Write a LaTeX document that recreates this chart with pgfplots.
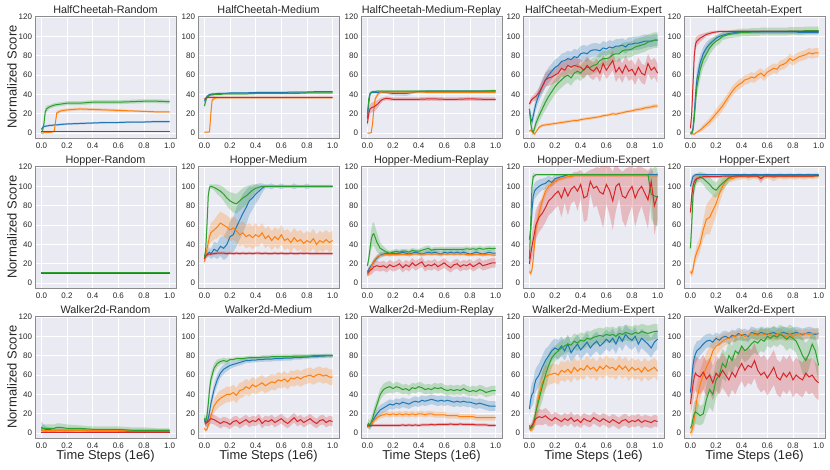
\documentclass[border=0pt]{standalone}
\usepackage{pgfplots}
\pgfplotsset{compat=1.18}
\usepackage{pgfplotstable}
\usepgfplotslibrary{fillbetween}
\usepackage{fontspec}
\setmainfont{Liberation Sans}
\definecolor{cb}{HTML}{1F77B4}
\definecolor{co}{HTML}{FF7F0E}
\definecolor{cg}{HTML}{2CA02C}
\definecolor{cr}{HTML}{D62728}
\definecolor{bgc}{HTML}{EAEAF2}
\definecolor{txt}{HTML}{262626}
\definecolor{frame}{HTML}{8C8C8C}

% ---------------- data: x, mean/std for blue, orange, green, red ----------------
\pgfplotstableread{
x b bs o os g gs r rs
0 4 1 0 0.5 1 1 2 0.3
.01 6 1 0 0.5 3 2 2 0.3
.02 7 1 0.5 0.5 10 4 2 0.3
.03 7 1 0.5 0.5 22 4 2 0.3
.04 7.5 1 0.5 0.5 25 3 2 0.3
.05 7.5 1 0.5 0.5 26 3 2 0.3
.06 8 1 0.5 0.5 27 2 2 0.3
.08 8 1 1 0.5 28 2 2 0.3
.1 8.5 1 2 1 29 2 2 0.3
.12 8.5 1 21 2 29.5 2 2 0.3
.15 9 1 23 1.5 30 2 2 0.3
.2 9.5 1 24 1.5 31 2 2 0.3
.3 10 1 25 1.5 31 2 2 0.3
.4 10.5 1 24.5 1.5 32 2 2 0.3
.5 11 1 24 1.5 32 2 2 0.3
.6 11 1 23.5 1.5 32 2 2 0.3
.7 11.5 1 23 1 32.5 2 2 0.3
.8 11.5 1 22.5 1 33 2 2 0.3
.9 12 1 22 1 33 2 2 0.3
1 12 1 22 1 32.5 2 2 0.3
}\tA
\pgfplotstableread{
x b bs o os g gs r rs
0 33 3 1 0.5 28 3 35 2
.01 35 2 1 0.5 33 3 36 1
.02 38 1 1 0.5 37 2 37 1
.03 39 1 1 0.5 38 1 37 1
.04 40 1 1.5 0.5 39 1 37 1
.05 40 1 20 4 39.5 1 37 1
.06 40.5 1 34 2 39.5 1 37 1
.08 40.5 1 36 1 40 1 37 1
.1 41 0.8 36.5 0.5 40 1 37 0.8
.12 41 0.8 36.5 0.5 40 1 37 0.8
.15 41 0.8 36.5 0.5 40.5 1 37 0.8
.2 41.5 0.8 36.5 0.5 40.5 1 37 0.8
.3 41.5 0.8 36.5 0.5 40.5 1 37 0.8
.4 42 0.8 36.5 0.5 41 1 37 0.8
.5 42 0.8 36.5 0.5 41 1 37 0.8
.6 42 0.8 36.5 0.5 41 1 37 0.8
.7 42.5 0.8 36.5 0.5 41 1 37 0.8
.8 42.5 0.8 36.5 0.5 41.5 1 37 0.8
.9 43 0.8 36.5 0.5 41.5 1 37 0.8
1 43 0.8 36.5 0.5 41.5 1 37 0.8
}\tB
\pgfplotstableread{
x b bs o os g gs r rs
0 15 5 0 0.5 20 5 10 4
.01 30 5 0 0.5 35 4 20 5
.02 40 2 0 0.5 41 2 25 5
.03 42 1 0.5 0.5 42 1 26 5
.04 42 1 10 4 43 1 27 5
.05 42 1 25 5 43 1 27 5
.06 42 1 35 3 43 1 28 5
.08 42 1 40 2 43.5 1 30 4
.1 42 1 42 1 43.5 1 33 3
.12 42 1 42.5 1 43.5 1 35 2
.15 42 1.5 42.5 1 43.5 1 36 2
.2 41 2 42.5 1 43.5 1 35 2
.3 41 2.5 42.5 1 43.5 1 35 2
.4 43 1 42.5 1 43.5 1 35 2
.5 43.5 1 42 1 43.5 1 35.5 2
.6 43.5 1 42 1 43.5 1 35 2
.7 43.5 1 42 1 43.5 1 35 2
.8 43.5 1 42 1 43.5 1 35.5 2
.9 43.5 1 42 1 43.5 1 35 2
1 43.5 1 42 1 44 1 35 2
}\tC
\pgfplotstableread{
x b bs o os g gs r rs
0 25 3 2 1 25 3 30 3
.01 15 5 3 1 10 5 33 3
.02 12 6 2 1 3 4 35 3
.03 18 6 0 1 1 3 36 3
.04 24 6 -1 1 5 4 37 4
.05 30 6 1 1 10 5 38 4
.075 40 7 6 1.5 18 6 42 5
.1 48 8 8 1.5 25 7 48 6
.125 55 8 8.5 1.5 32 8 55 7
.15 60 8 9 1.5 38 8 57 8
.175 64 8 9.5 1.5 43 8 58 8
.2 68 8 10 1.5 48 8 60 8
.225 70 8 10.5 1.5 52 8 62 8
.25 74 8 11 1.5 55 8 67 8
.275 75 8 11.5 1.5 58 8 65 8
.3 77 8 12 1.5 60 8 70 8
.325 76 8 12.5 1.5 57 8 68 8
.35 79 8 13 1.5 62 8 70 8
.375 78 8 13 1.5 64 8 69 8
.4 82 8 14 1.5 62 8 68 8
.425 83 8 14.5 1.5 66 8 65 9
.45 82 8 15 1.5 68 8 70 9
.475 85 7 15.5 1.5 68 8 66 9
.5 86 7 16 1.5 70 8 64 9
.525 86 7 16.5 1.5 71 8 68 9
.55 85 7 17 1.5 75 8 62 9
.575 88 7 18 1.5 77 8 72 9
.6 87 7 18.5 1.5 77 8 65 9
.625 89 7 19 1.5 78 8 70 10
.65 88 7 20 1.5 81 8 75 10
.675 90 7 19.5 1.5 82 8 63 10
.7 90 7 20.5 1.5 82 8 68 10
.725 91 7 21 1.5 85 8 62 10
.75 89 7 22 1.5 86 8 70 10
.775 92 7 22.5 1.5 86 8 64 10
.8 92 7 23 1.5 87 8 66 10
.825 93 7 24 2 89 8 60 10
.85 93 7 24.5 2 90 8 68 10
.875 94 7 25 2 91 8 62 10
.9 95 7 26 2 92 8 60 10
.925 95 6 26.5 2 94 8 72 10
.95 95 6 27 2 95 8 65 10
.975 96 6 28 2 96 8 68 10
1 96 6 28 2 96 8 62 10
}\tD
\pgfplotstableread{
x b bs o os g gs r rs
0 0 2 0 1 0 2 5 3
.01 0 2 0 1 0 2 20 8
.02 5 4 -1 1 3 3 50 10
.03 20 8 -1 1 15 6 80 8
.04 40 10 0 1 32 8 92 6
.05 55 10 1 1 48 10 95 5
.075 72 8 3 2 65 10 98 4
.1 82 7 6 3 76 8 100 3
.125 88 6 9 3 82 8 102 2
.15 92 5 12 4 88 7 103 2
.175 95 4 16 4 92 6 104 1.5
.2 98 3 20 5 95 5 104.5 1.5
.225 100 3 24 5 97 5 105 1
.25 101 3 28 5 100 4 105 1
.275 102 2 33 5 101 4 105 1
.3 103 2 38 5 102 4 105 1
.325 103.5 2 43 5 102.5 4 105 1
.35 104 2 47 5 103 4 105 1
.375 104 2 50 5 103.5 4 105 1
.4 104.5 2 52 5 104 4 105 1
.425 104.5 2 55 5 104 4 105 1
.45 104.5 2 56 5 104 4 105 1
.475 104.5 2 58 5 104.5 4 105 1
.5 104.5 2 57 5 104.5 4 105 1
.525 104.5 2 60 5 104.5 4 105 1
.55 104.5 2 62 5 105 4 105 1
.575 104.5 2 59 5 105 4 105 1
.6 104.5 2 63 5 105 4 105 1
.625 104.5 2 65 5 105 4 105 1
.65 104.5 2 67 5 105 4 105 1
.675 104.5 2 66 5 105 4 105 1
.7 104.5 2 70 5 105 4 105 1
.725 104.5 2 71 5 105 4 105 1
.75 104.5 2 73 5 105 4 105 1
.775 104.5 2 77 5 105.5 4 105 1
.8 104.5 2 75 5 105.5 4 105 1
.825 104.5 2 77 5 105.5 4 105 1
.85 104 2 79 5 105.5 4 105 1
.875 104 2 80 5 105.5 4 105 1
.9 104 2 81 5 106 4 105 1
.925 104 2 83 5 106 4 105 1
.95 104 2 82 5 106 4 105 1
.975 104 2 83 5 106 4 105 1
1 104 2 83 5 106 4 105 1
}\tE
\pgfplotstableread{
x b bs o os g gs r rs
0 10.5 0.5 10 0.5 11 0.5 10 0.3
.25 10.5 0.5 10 0.5 11 0.5 10 0.3
.5 10.5 0.5 10 0.5 11 0.5 10 0.3
.75 10.5 0.5 10 0.5 11 0.5 10 0.3
1 10.5 0.5 10 0.5 11 0.5 10 0.3
}\tF
\pgfplotstableread{
x b bs o os g gs r rs
0 28 3 22 3 25 3 25 3
.01 30 3 28 5 35 6 28 3
.02 30 4 35 6 60 10 29 2
.03 31 4 42 8 90 6 30 2
.04 32 5 48 8 99 3 30 1.5
.05 30 5 52 10 100 2 30 1.5
.075 35 8 55 10 99 3 30.5 1.5
.1 33 8 58 12 97 5 31 1.5
.125 38 10 62 12 95 6 31 1.5
.15 36 12 60 12 92 7 31 1.5
.175 40 14 58 12 88 8 30.5 1.5
.2 48 16 55 12 85 9 31 1.5
.225 50 18 57 12 83 10 30.5 1.5
.25 58 20 54 12 82 10 31 1.5
.275 65 20 50 12 85 10 30.5 1.5
.3 72 20 52 12 88 10 31 1.5
.325 78 18 48 12 90 10 30.5 1.5
.35 85 15 50 12 93 8 31 1.5
.375 88 12 47 12 96 6 30.5 1.5
.4 92 10 50 12 98 4 31 1.5
.425 95 8 48 10 99 2 31 1.5
.45 98 5 52 10 100 1 30.5 1.5
.475 100 2 46 10 100 1 31 1.5
.5 100 2 49 10 100 1 30.5 1.5
.525 100 3 44 10 100 1 30.5 1.5
.55 100 1.5 48 10 100 1 31 1.5
.575 100 1.5 45 10 100 1 30.5 1.5
.6 100 3 50 10 100 1 31 1.5
.625 100 1.5 44 10 100 1 30.5 1.5
.65 100 1.5 46 10 100 1 30.5 1.5
.675 100 1.5 42 10 100 1 31 1.5
.7 100 3 47 10 100 1 30.5 1.5
.725 100 1.5 43 10 100 1 30.5 1.5
.75 100 1.5 45 10 100 1 31 1.5
.775 100 1.5 41 10 100 1 30.5 1.5
.8 100 3 44 10 100 1 31 1.5
.825 100 1.5 42 10 100 1 30.5 1.5
.85 100 1.5 46 10 100 1 30.5 1.5
.875 100 1.5 40 10 100 1 30.5 1.5
.9 100 1.5 44 10 100 1 30.5 1.5
.925 100 1.5 42 10 100 1 30.5 1.5
.95 100 1.5 45 10 100 1 30.5 1.5
.975 100 1.5 42 10 100 1 30.5 1.5
1 100 1.5 44 10 100 1 30.5 1.5
}\tG
\pgfplotstableread{
x b bs o os g gs r rs
0 12 2 8 2 18 3 10 3
.01 14 3 10 2 25 5 12 4
.02 16 3 13 2 35 8 13 5
.03 18 3 17 2 45 10 14 5
.04 20 3 20 2 50 12 15 5
.05 22 3 23 2 51 12 17 5
.075 26 3 27 2 42 10 18 5
.1 29 3 29 2 36 6 17 5
.125 30 2.5 29 1.5 34 4 18 5
.15 31 2.5 29.5 1.5 32 3 16 5
.175 30 2.5 29.5 1.5 31 2.5 19 5
.2 31 2.5 29.5 1.5 32 2.5 17 5
.225 30.5 2.5 29.5 1.5 33 2.5 18 5
.25 31 2.5 29.5 1.5 32 2.5 20 5
.275 32 2.5 29.5 1.5 33 2.5 16 5
.3 31 2.5 29.5 1.5 33 2.5 19 5
.325 30 2.5 29.5 1.5 32 2.5 17 5
.35 31 2.5 30 1.5 34 2.5 21 5
.375 32 2.5 30 1.5 33 2.5 18 5
.4 31 2.5 30 1.5 33 2.5 20 5
.425 30 2.5 30 1.5 34 2.5 22 5
.45 31 2.5 30 1.5 35 3 17 5
.475 32 2.5 30 1.5 36 3 19 5
.5 31 2.5 30 1.5 34 2.5 18 5
.525 32 2.5 30 1.5 35 2.5 20 5
.55 31 2.5 30 1.5 35 2.5 17 5
.575 30 2.5 30 1.5 35 2.5 19 5
.6 32 2.5 30 1.5 35 2.5 21 5
.625 31 2.5 30 1.5 35 2.5 18 5
.65 32 2.5 30 1.5 35 2.5 16 5
.675 31 2.5 30 1.5 35 2.5 19 5
.7 32 2.5 30 1.5 35 2.5 20 5
.725 31 2.5 30 1.5 35 2.5 17 5
.75 32 2.5 30 1.5 35 2.5 19 5
.775 31 2.5 29.5 1.5 35.5 2.5 18 5
.8 30 2.5 29.5 1.5 35 2.5 20 5
.825 31 2.5 29.5 1.5 35.5 2.5 17 5
.85 32 2.5 29.5 1.5 35 2.5 19 5
.875 31 2.5 29.5 1.5 36 2.5 21 5
.9 30 2.5 29.5 1.5 35 2.5 18 5
.925 31 2.5 29.5 1.5 35.5 2.5 19 5
.95 32 2.5 29.5 1.5 36 2.5 20 5
.975 31 2.5 29 1.5 35.5 2.5 21 5
1 31 2.5 29 1.5 36 2.5 21 5
}\tH
\pgfplotstableread{
x b bs o os g gs r rs
0 45 8 12 3 25 5 20 8
.01 55 10 10 3 60 15 30 10
.02 75 12 14 4 100 10 38 12
.03 90 10 25 6 110 4 45 15
.04 95 8 40 8 111 2 52 15
.05 97 8 55 8 112 1 60 15
.075 100 7 72 8 112 1 68 15
.1 102 6 85 6 112 1 72 15
.125 103 6 95 5 112 1 78 15
.15 106 5 100 4 112 1 85 15
.175 104 5 103 3 112 1 88 15
.2 108 4 105 3 112 1 92 15
.225 109 3 107 2 112 1 95 15
.25 110 2 108 2 112 1 88 20
.275 111 1 109 2 112 1 98 15
.3 112 1 110 2 112 1 90 20
.325 112 1 110 2 112 1 97 15
.35 112 1 111 1.5 112 1 100 15
.375 112 1 111 1.5 112 1 95 20
.4 112 1 111 1.5 112 1 102 15
.425 112 1 111 1.5 112 1 88 25
.45 112 1 111 1.5 112 1 90 25
.475 112 1 111 1.5 112 1 105 12
.5 112 1 111 1.5 112 1 98 20
.525 112 1 111 1.5 112 1 100 20
.55 112 1 111 1.5 112 1 94 25
.575 112 1 111 1.5 112 1 92 35
.6 112 1 111 1.5 112 1 102 20
.625 112 1 111 1.5 112 1 96 25
.65 112 1 111 1.5 112 1 85 30
.675 112 1 111 1.5 112 1 100 25
.7 112 1 111 1.5 112 1 103 15
.725 112 1 111 1.5 112 1 90 25
.75 112 1 111 1.5 112 1 88 30
.775 112 1 111 1.5 112 1 95 25
.8 112 1 111 1.5 112 1 100 20
.825 112 1 111 1.5 112 1 88 30
.85 112 1 111 1.5 112 1 96 25
.875 112 1 111 1.5 112 1 100 20
.9 112 1 111 1.5 112 1 93 25
.925 112 1 111 1.5 112 1 86 30
.95 112 1 111 1.5 92 25 105 15
.975 112 1 111 1.5 90 30 80 30
1 112 1 111 1.5 89 30 90 25
}\tI
\pgfplotstableread{
x b bs o os g gs r rs
0 100 5 12 3 36 15 73 10
.01 105 5 10 4 60 15 90 10
.02 110 3 14 5 90 12 100 8
.03 111 2 22 6 100 8 105 5
.04 112 1.5 28 6 104 6 107 4
.05 112 1.5 32 8 108 5 108 3
.075 112 1 40 8 110 5 109 2
.1 112 1 55 10 108 6 110 2
.125 112 1 66 15 105 8 110 1.5
.15 112 1 68 18 102 8 110 1.5
.175 112 1 75 15 98 8 110 1.5
.2 112 1 82 12 96 8 110 1.5
.225 112 1 92 10 100 8 110 1.5
.25 112 1 100 8 103 7 110.5 1.5
.275 112 1 105 5 106 6 110.5 1.5
.3 112 1 108 4 109 4 110.5 1.5
.325 112 1 108 3 110 3 110.5 1.5
.35 112 1 109 3 111 2 110.5 1.5
.375 112 1 110 3 111 1.5 110.5 1.5
.4 112 1 110 3 111 1.5 110.5 1.5
.425 112 1 111 3 111 1.5 110.5 1.5
.45 112 1 109 3 111 1.5 110.5 1.5
.475 112 1 110 3 111 1.5 110.5 1.5
.5 112 1 111 3 111 1.5 110.5 1.5
.525 112 1 110 3 111 1.5 110.5 1.5
.55 112 1 109 3 111 1.5 108 5
.575 112 1 110 3 111 1.5 110.5 1.5
.6 112 1 111 3 111 1.5 110.5 1.5
.625 112 1 110 3 111 1.5 110.5 1.5
.65 112 1 109 4 111 1.5 110.5 1.5
.675 112 1 110 3 111 1.5 110.5 1.5
.7 112 1 111 3 111 1.5 110.5 1.5
.725 112 1 110 3 111 1.5 110.5 1.5
.75 112 1 110 3 111 1.5 110.5 1.5
.775 112 1 111 3 111 1.5 110.5 1.5
.8 112 1 110 3 111 1.5 110.5 1.5
.825 112 1 110 3 111 1.5 110.5 1.5
.85 112 1 111 3 111 1.5 110.5 1.5
.875 112 1 110 3 111 1.5 110.5 1.5
.9 112 1 110 3 111 1.5 110.5 1.5
.925 112 1 111 3 111 1.5 110.5 1.5
.95 112 1 110 3 111 1.5 110.5 1.5
.975 112 1 111 3 111 1.5 111 1.5
1 112 1 111 3 111 1.5 111 1.5
}\tJ
\pgfplotstableread{
x b bs o os g gs r rs
0 6 6 3 2 4 3 1 0.5
.01 5 5 3 2 5 3 1 0.5
.02 5 4 3 2 5 4 1 0.5
.03 4 3 3 2 5 4 1 0.5
.04 4 3 3 2 5 4 1 0.5
.05 4 2 3 2 5 4 1 0.5
.06 4 2 3 2 5 4 1 0.5
.08 3 2 3 2 5 4 1 0.5
.1 3 2 3 2 5 4 1 0.5
.12 3 2 3 2 6 4 1 0.5
.15 3 2 3 2 6 4 1 0.5
.2 3 1.5 3 1.5 5 4 1 0.5
.3 3 1.5 3 1.5 5 3 1 0.5
.4 2.5 1.5 3 1.5 4 3 1 0.5
.5 2.5 1.5 3 1.5 4 3 1 0.5
.6 2.5 1.5 3 1.5 4 3 1 0.5
.7 2 1.5 3 1.5 3 3 1 0.5
.8 2 1.5 3 1.5 3 3 1 0.5
.9 2 1.5 3 1.5 3 2 1 0.5
1 2 1.5 3 1.5 3 2 1 0.5
}\tK
\pgfplotstableread{
x b bs o os g gs r rs
0 15 4 5 2 15 5 12 3
.01 10 4 3 2 12 5 12 4
.02 11 4 4 2 18 6 11 5
.03 15 5 8 3 30 8 12 5
.04 22 6 12 4 45 8 14 5
.05 30 6 18 5 55 7 15 5
.075 45 6 28 7 67 5 14 5
.1 55 6 33 8 72 4 12 5
.125 62 5 36 8 74 3 10 5
.15 66 5 38 8 75 3 12 5
.175 68 4 40 8 74 3 11 5
.2 70 4 40 8 76 2 9 5
.225 71 3 42 8 76 2 12 5
.25 72 3 39 8 77 2 13 5
.275 73 3 44 8 77 2 10 5
.3 74 3 45 8 77 2 12 5
.325 75 2.5 48 8 77.5 2 14 5
.35 75 2.5 46 8 78 2 11 5
.375 75.5 2.5 50 8 78 2 13 5
.4 75.5 2.5 48 8 78 2 12 5
.425 76 2.5 50 8 78 2 15 5
.45 76 2.5 52 8 78.5 2 10 5
.475 76.5 2.5 49 8 78.5 2 13 5
.5 76.5 2.5 51 8 78.5 2 12 5
.525 76.5 2.5 53 8 79 2 14 5
.55 77 2.5 52 8 79 2 11 5
.575 77 2.5 55 8 79 2 13 5
.6 77 2.5 54 8 79 2 15 5
.625 77.5 2.5 56 8 79 2 12 5
.65 77.5 2.5 53 8 79 2 10 5
.675 77.5 2.5 57 8 79 2 13 5
.7 78 2 56 8 79.5 2 16 5
.725 78 2 58 8 79.5 2 12 5
.75 78 2 56 8 79.5 2 14 5
.775 78.5 2 58 8 79.5 2 11 5
.8 78.5 2 59 8 79.5 2 13 5
.825 79 2 60 8 79.5 2 15 5
.85 79 2 58 8 80 2 12 5
.875 79 2 60 8 80 2 10 5
.9 79.5 2 61 8 80 2 13 5
.925 79.5 2 59 8 80 2 14 5
.95 80 2 60 8 80 2 11 5
.975 80 2 58 8 80 2 13 5
1 80 2 58 8 80 2 12 5
}\tL
\pgfplotstableread{
x b bs o os g gs r rs
0 8 2 7 2 8 3 7 1.5
.01 7 2 7 2 10 5 8 1.5
.02 7 2 8 2 8 5 8 1.5
.03 9 3 9 3 12 6 8 1.5
.04 12 4 11 3 15 6 8 1.5
.05 15 4 13 3 20 6 8 1.5
.075 20 5 16 3 30 6 8 1.5
.1 24 5 18 3 40 6 8 1.5
.125 26 5 19 3 45 6 8 1.5
.15 28 5 20 3 47 6 8 1.5
.175 30 5 19 3 48 6 8 1.5
.2 29 5 20 3 46 5 8 1.5
.225 31 5 19 3 48 5 8 1.5
.25 30 5 20 3 47 5 8 1.5
.275 32 5 19 3 45 5 8.5 1.5
.3 31 5 20 3 46 5 8 1.5
.325 30 5 19 3 44 5 8.5 1.5
.35 32 5 20 3 47 5 8 1.5
.375 33 5 19 3 46 5 8.5 1.5
.4 32 5 20 3 48 5 8 1.5
.425 34 5 20 3 47 5 8.5 1.5
.45 33 5 19 3 45 5 8.5 1.5
.475 34 5 20 3 46 5 8.5 1.5
.5 35 5 20 3 45 5 9 1.5
.525 34 5 19 3 47 5 8.5 1.5
.55 33 5 19 3 46 5 9 1.5
.575 34 5 19 3 47 5 9 1.5
.6 33 5 19 3 45 5 9 1.5
.625 34 5 18 3 44 5 9 1.5
.65 33 5 18 3 45 5 9.5 1.5
.675 32 5 18 3 44 5 9 1.5
.7 33 5 18 3 45 5 9 1.5
.725 32 5 17 3 44 5 9.5 1.5
.75 33 5 17 3 46 5 9 1.5
.775 32 5 17 3 44 5 9 1.5
.8 32 5 17 3 43 5 9 1.5
.825 31 5 17 3 44 5 9 1.5
.85 30 5 16 3 43 5 8.5 1.5
.875 31 5 16 3 45 5 8.5 1.5
.9 30 5 16 3 44 5 8.5 1.5
.925 29 5 16 3 42 5 8.5 1.5
.95 28 5 16 3 43 5 8 1.5
.975 28 5 16 3 44 5 8 1.5
1 28 5 16 3 44 5 8 1.5
}\tM
\pgfplotstableread{
x b bs o os g gs r rs
0 25 8 5 2 8 3 5 3
.01 35 10 3 2 5 3 6 3
.02 40 12 4 3 6 4 8 4
.03 42 12 8 5 10 6 10 5
.04 50 12 12 8 15 8 13 6
.05 55 12 22 10 22 10 15 7
.075 60 12 40 12 35 12 17 8
.1 68 12 52 12 48 15 16 8
.125 75 12 58 12 60 15 18 8
.15 80 10 60 10 70 12 15 8
.175 85 10 61 10 78 10 13 6
.2 88 10 62 10 82 8 16 6
.225 86 10 60 10 85 8 14 6
.25 90 10 65 10 88 8 12 6
.275 85 10 63 10 90 8 15 6
.3 92 10 66 10 92 8 13 6
.325 83 10 62 10 91 8 16 6
.35 88 10 68 10 95 8 12 6
.375 92 10 64 10 93 8 14 6
.4 86 10 67 10 96 8 11 6
.425 90 10 65 10 95 8 15 6
.45 94 10 70 10 98 8 13 6
.475 88 10 66 10 97 8 12 6
.5 92 10 68 10 99 8 16 6
.525 95 10 64 10 100 8 14 6
.55 90 10 69 10 101 8 12 6
.575 93 10 66 10 100 8 15 6
.6 97 10 70 10 102 8 13 6
.625 94 10 67 10 101 8 11 6
.65 98 10 68 10 102 8 14 6
.675 92 10 65 10 100 8 12 6
.7 100 10 70 10 103 8 10 6
.725 95 10 66 10 102 8 13 6
.75 102 10 69 10 104 8 14 6
.775 98 10 64 10 103 8 11 6
.8 96 10 68 10 102 8 13 6
.825 100 10 65 10 104 8 12 6
.85 92 10 67 10 103 8 14 6
.875 98 10 63 10 105 8 11 6
.9 95 10 68 10 104 8 13 6
.925 92 10 64 10 103 8 12 6
.95 88 10 66 10 104 8 11 6
.975 94 10 68 10 105 8 13 6
1 97 10 64 10 105 8 12 6
}\tN
\pgfplotstableread{
x b bs o os g gs r rs
0 42 12 0 3 5 4 30 10
.01 55 15 2 5 8 6 40 15
.02 70 15 8 8 15 10 50 18
.03 78 12 15 12 20 12 58 18
.04 82 10 25 15 22 12 62 18
.05 85 10 35 15 21 12 60 18
.075 88 8 50 15 18 10 58 18
.1 92 8 60 15 20 10 63 18
.125 95 7 68 15 35 15 56 18
.15 96 7 75 15 45 18 60 18
.175 94 7 85 12 40 18 52 18
.2 98 6 90 10 55 18 62 18
.225 96 6 92 8 60 18 58 18
.25 99 6 95 7 72 15 65 18
.275 100 6 97 6 68 15 60 18
.3 98 6 98 6 80 15 55 18
.325 101 6 99 6 75 15 63 18
.35 100 6 100 5 85 15 58 18
.375 103 6 101 5 82 15 66 18
.4 101 6 102 5 90 12 72 18
.425 102 6 100 5 85 12 65 18
.45 100 6 101 5 88 12 70 18
.475 104 6 103 5 92 12 68 18
.5 103 6 102 5 95 12 75 18
.525 102 6 101 5 93 12 65 18
.55 104 6 103 5 97 12 60 18
.575 103 6 102 5 95 12 63 18
.6 102 6 103 5 100 10 57 18
.625 103 6 101 5 98 10 62 18
.65 104 6 100 5 101 10 68 18
.675 102 6 102 5 99 10 58 18
.7 103 6 103 5 102 10 55 18
.725 104 6 101 5 100 10 62 18
.75 103 6 100 5 97 12 58 18
.775 102 6 102 5 100 12 63 18
.8 103 6 100 5 98 12 55 18
.825 104 6 102 5 95 12 60 18
.85 103 6 103 5 88 15 57 18
.875 102 6 101 5 80 18 55 18
.9 103 6 103 5 75 18 62 18
.925 104 6 102 5 82 15 58 18
.95 103 6 103 5 92 12 60 18
.975 102 6 103 5 85 15 55 18
1 103 6 103 5 70 18 52 18
}\tO

\pgfplotsset{panel/.style={
  width=141pt, height=122pt, scale only axis,
  xmin=-0.05, xmax=1.05, ymin=-5, ymax=121,
  axis background/.style={fill=bgc},
  axis line style={draw=frame, line width=0.9pt},
  grid=major, major grid style={white, line width=0.9pt},
  xtick={0,0.2,0.4,0.6,0.8,1}, xticklabels={0.0,0.2,0.4,0.6,0.8,1.0},
  ytick={0,20,40,60,80,100,120},
  major tick length=0pt,
  /pgf/number format/assume math mode=true,
  ticklabel style={font=\fontsize{8}{9}\selectfont, text=txt},
  xticklabel style={yshift=-1.5pt},
  yticklabel style={xshift=0.5pt},
  every axis title/.style={font=\fontsize{10.8}{12}\selectfont, text=txt, at={(axis description cs:0.5,1)}, anchor=base, yshift=3pt, inner sep=0pt},
  every axis y label/.style={at={(axis description cs:-0.163,0.5)}, rotate=90, anchor=center, font=\fontsize{13}{15}\selectfont, text=txt},
  every axis x label/.style={at={(axis description cs:0.5,-0.15)}, anchor=center, font=\fontsize{12.9}{15}\selectfont, text=txt},
}}

\newcommand{\series}[4]{%
  \addplot[name path=U#2, draw=none, forget plot] table[x=x, y expr=\thisrow{#2}+\thisrow{#3}] {#1};
  \addplot[name path=L#2, draw=none, forget plot] table[x=x, y expr=\thisrow{#2}-\thisrow{#3}] {#1};
  \addplot[fill=#4, fill opacity=0.25, draw=none, forget plot] fill between[of=U#2 and L#2];
  \addplot[#4, line width=1pt, forget plot] table[x=x, y=#2] {#1};
}
\newcommand{\panel}[5]{%
  \begin{axis}[panel, at={(#1pt,-#2pt)}, anchor=north west, title={#3}, #5]
    \series{#4}{b}{bs}{cb}
    \series{#4}{o}{os}{co}
    \series{#4}{g}{gs}{cg}
    \series{#4}{r}{rs}{cr}
  \end{axis}}

\begin{document}
\begin{tikzpicture}
\panel{35}{16}{HalfCheetah-Random}{\tA}{ylabel={Normalized Score}}
\panel{198}{16}{HalfCheetah-Medium}{\tB}{}
\panel{361}{16}{HalfCheetah-Medium-Replay}{\tC}{}
\panel{523}{16}{HalfCheetah-Medium-Expert}{\tD}{}
\panel{684}{16}{HalfCheetah-Expert}{\tE}{}
\panel{35}{166}{Hopper-Random}{\tF}{ylabel={Normalized Score}}
\panel{198}{166}{Hopper-Medium}{\tG}{}
\panel{361}{166}{Hopper-Medium-Replay}{\tH}{}
\panel{523}{166}{Hopper-Medium-Expert}{\tI}{}
\panel{684}{166}{Hopper-Expert}{\tJ}{}
\panel{35}{316}{Walker2d-Random}{\tK}{ylabel={Normalized Score}, xlabel={Time Steps (1e6)}}
\panel{198}{316}{Walker2d-Medium}{\tL}{xlabel={Time Steps (1e6)}}
\panel{361}{316}{Walker2d-Medium-Replay}{\tM}{xlabel={Time Steps (1e6)}}
\panel{523}{316}{Walker2d-Medium-Expert}{\tN}{xlabel={Time Steps (1e6)}}
\panel{684}{316}{Walker2d-Expert}{\tO}{xlabel={Time Steps (1e6)}}
\pgfresetboundingbox
\path (0,0) rectangle (830pt,-469pt);
\end{tikzpicture}
\end{document}
